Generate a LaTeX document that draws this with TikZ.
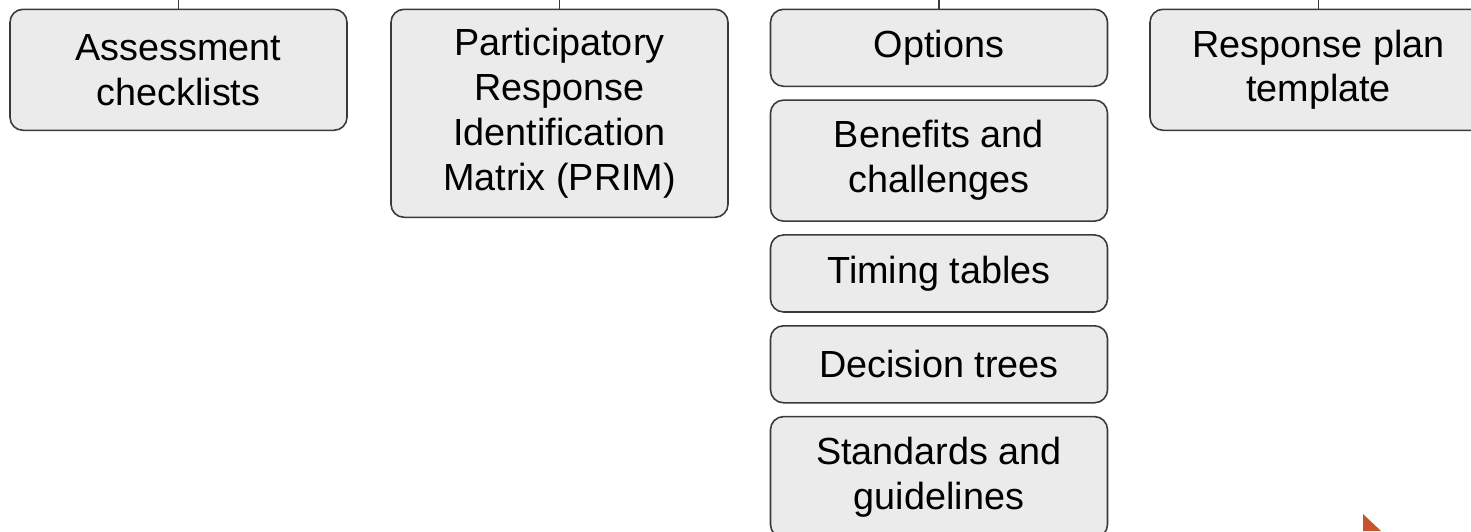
\documentclass[tikz,border=0pt]{standalone}
\usepackage{fontspec}
\setmainfont{Liberation Sans}
\usetikzlibrary{positioning}
\definecolor{boxfill}{HTML}{EBEBEB}
\definecolor{boxline}{HTML}{3A3A3A}
\definecolor{markorange}{HTML}{C9532C}
\begin{document}
\begin{tikzpicture}
[
    node distance=0.245cm,
    common/.style={shape=rectangle, rounded corners=1.4ex, draw=boxline, line width=0.9pt,
        fill=boxfill, minimum width=6.74cm, inner sep=0pt, align=center,
        font=\fontsize{21.5}{25.5}\selectfont, anchor=north},
    short/.style={common, minimum height=1.54cm},
    tall/.style={common, minimum height=2.42cm},
    tick/.style={draw=boxline, line width=0.6pt},
]
\useasboundingbox (0,0) rectangle (29.42,-10.62);
% top row
\node[tall] (assess) at (3.57,-0.17) {Assessment\\checklists};
\node[common, minimum height=4.16cm] (prim) at (11.19,-0.17) {Participatory\\Response\\Identification\\Matrix (PRIM)};
\node[short] (options) at (18.78,-0.17) {Options};
\node[tall] (plan) at (26.37,-0.17) {Response plan\\template};
% stack under options
\node[tall, below=of options] (benefits) {Benefits and\\challenges};
\node[short, below=of benefits] (timing) {Timing tables};
\node[short, below=of timing] (trees) {Decision trees};
\node[tall, below=of trees] (standards) {Standards and\\guidelines};
% connectors from above
\foreach \n in {assess, prim, options, plan}
    \draw[tick] (\n.north) -- ++(0,0.17);
% corner mark
\fill[markorange] (27.26,-10.28) -- (27.26,-10.62) -- (27.62,-10.62) -- cycle;
\end{tikzpicture}
\end{document}
